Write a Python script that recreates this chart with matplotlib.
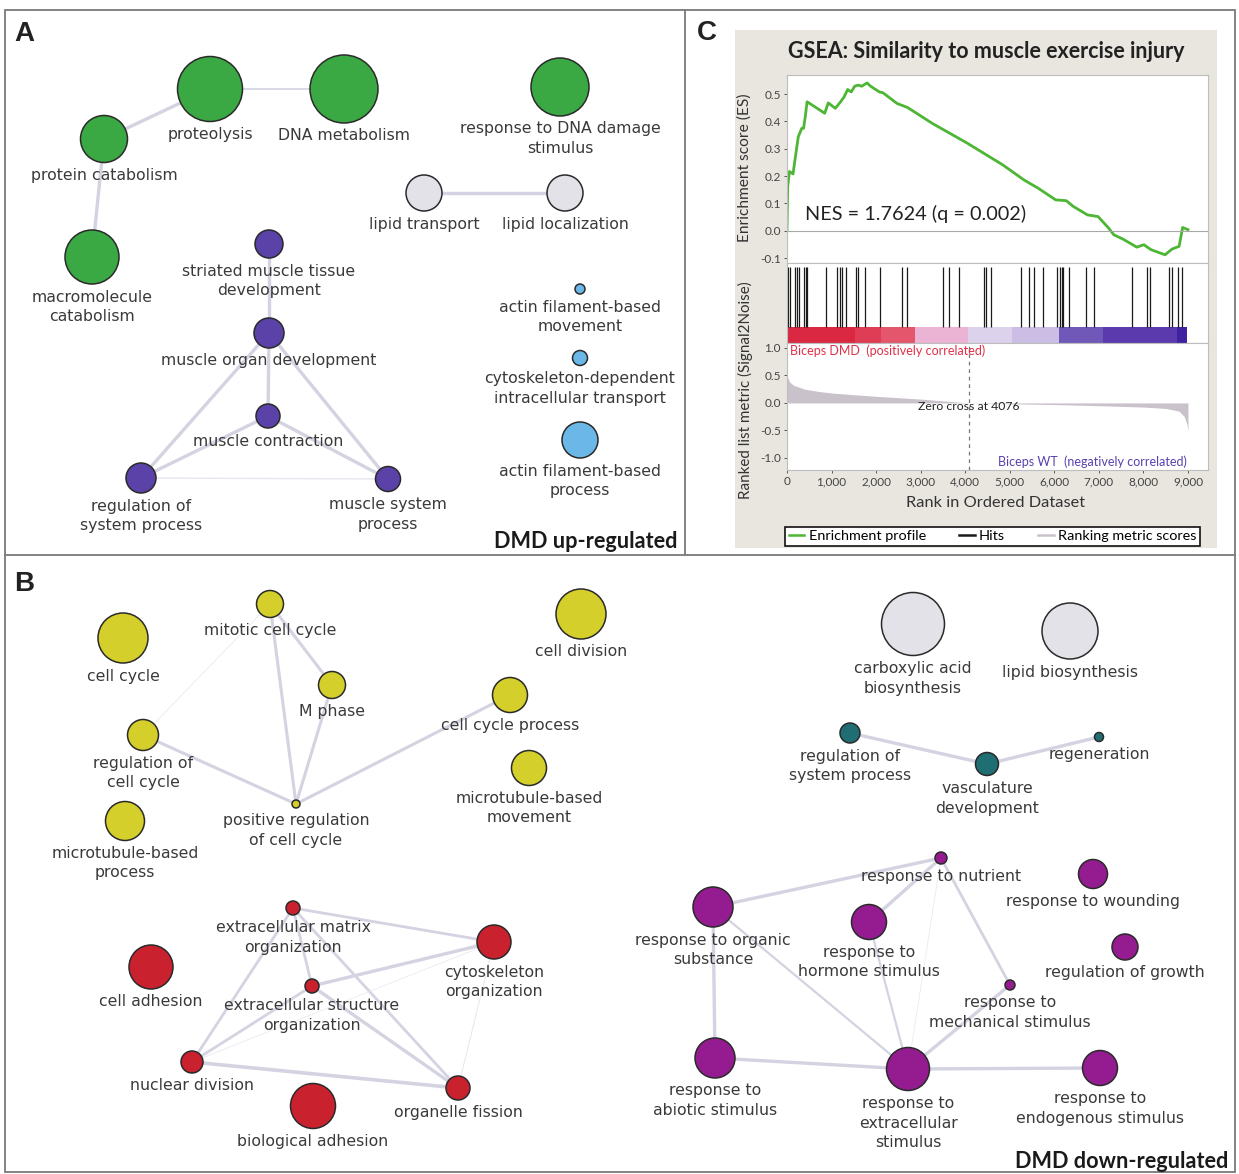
import matplotlib.pyplot as plt
from matplotlib.lines import Line2D
from matplotlib.patches import Rectangle

W, H = 1239, 1174

# ---------- GO-term networks (canvas pixel layout) ----------
a_terms = ['proteolysis', 'DNA metabolism', 'response to DNA damage\nstimulus',
           'protein catabolism', 'macromolecule\ncatabolism',
           'lipid transport', 'lipid localization',
           'striated muscle tissue\ndevelopment', 'muscle organ development',
           'muscle contraction', 'regulation of\nsystem process', 'muscle system\nprocess',
           'actin filament-based\nmovement', 'cytoskeleton-dependent\nintracellular transport',
           'actin filament-based\nprocess']
a_x = [210, 344, 560, 104, 92, 424, 565, 269, 269, 268, 141, 388, 580, 580, 580]
a_y = [89, 89, 87, 139, 257, 193, 193, 244, 333, 416, 478, 479, 289, 358, 440]
a_size = [65, 68, 58, 47, 54, 36, 36, 28, 30, 24, 30, 25, 10, 15, 36]
a_group = ['green', 'green', 'green', 'green', 'green', 'grey', 'grey',
           'purple', 'purple', 'purple', 'purple', 'purple', 'blue', 'blue', 'blue']
a_edges = [(3, 0, 2.4), (0, 1, 1.2), (3, 4, 2.4), (5, 6, 2.4), (7, 8, 2.4), (8, 9, 2.4),
           (8, 10, 2.4), (8, 11, 2.4), (9, 10, 2.4), (9, 11, 2.4), (10, 11, 1.0)]

b_terms = ['cell cycle', 'mitotic cell cycle', 'M phase', 'regulation of\ncell cycle',
           'microtubule-based\nprocess', 'positive regulation\nof cell cycle',
           'cell division', 'cell cycle process', 'microtubule-based\nmovement',
           'extracellular matrix\norganization', 'extracellular structure\norganization',
           'cytoskeleton\norganization', 'cell adhesion', 'nuclear division',
           'organelle fission', 'biological adhesion',
           'carboxylic acid\nbiosynthesis', 'lipid biosynthesis',
           'regulation of\nsystem process', 'vasculature\ndevelopment', 'regeneration',
           'response to nutrient', 'response to organic\nsubstance',
           'response to\nhormone stimulus', 'response to wounding', 'regulation of growth',
           'response to\nmechanical stimulus', 'response to\nabiotic stimulus',
           'response to\nextracellular\nstimulus', 'response to\nendogenous stimulus']
b_x = [123, 270, 332, 143, 125, 296, 581, 510, 529, 293, 312, 494, 151, 192, 458, 313,
       913, 1070, 850, 987, 1099, 941, 713, 869, 1093, 1125, 1010, 715, 908, 1100]
b_y = [638, 604, 685, 735, 821, 804, 614, 695, 768, 908, 986, 942, 967, 1062, 1088, 1106,
       624, 631, 733, 764, 737, 858, 907, 922, 874, 947, 985, 1058, 1069, 1068]
b_size = [50, 27, 27, 31, 39, 8, 50, 35, 35, 14, 14, 34, 44, 22, 24, 45,
          63, 56, 20, 23, 9, 12, 40, 35, 29, 26, 10, 40, 43, 35]
b_group = ['yellow'] * 9 + ['red'] * 7 + ['grey'] * 2 + ['teal'] * 3 + ['magenta'] * 9
b_edges = [(1, 2, 2.2), (1, 5, 2.2), (2, 5, 2.2), (3, 5, 2.2), (7, 5, 2.2), (3, 1, 0.5),
           (9, 10, 2.0), (9, 11, 2.0), (9, 13, 2.0), (9, 14, 2.0), (10, 11, 2.4),
           (10, 13, 2.0), (10, 14, 2.4), (13, 14, 2.6), (11, 14, 0.7), (13, 11, 0.5),
           (18, 19, 2.4), (19, 20, 2.4),
           (22, 21, 2.4), (22, 27, 2.4), (22, 28, 1.6), (23, 21, 2.4), (23, 28, 1.6),
           (21, 26, 2.0), (21, 28, 0.5), (26, 28, 2.4), (27, 28, 2.4), (28, 29, 2.4)]

node_colors = {'green': '#3aa843', 'grey': '#e3e2e8', 'purple': '#5a42a8',
               'blue': '#6bb8e8', 'yellow': '#d4cf2a', 'red': '#c9212e',
               'teal': '#1e6e74', 'magenta': '#951c90'}

# ---------- GSEA enrichment ----------
es_rank = [0, 16, 55, 135, 253, 332, 372, 412, 451, 847, 926, 1084, 1203, 1282, 1361,
           1441, 1520, 1599, 1678, 1797, 1876, 2074, 2153, 2469, 2707, 3261, 4052, 4844,
           5319, 5635, 6031, 6269, 6427, 6744, 6981, 7218, 7337, 7535, 7852, 8010, 8168,
           8485, 8643, 8801, 8881, 9000]
es_val = [0.0, 0.162, 0.217, 0.208, 0.344, 0.375, 0.375, 0.42, 0.472, 0.43, 0.468, 0.448,
          0.472, 0.49, 0.517, 0.508, 0.529, 0.533, 0.529, 0.541, 0.529, 0.508, 0.505,
          0.466, 0.451, 0.393, 0.32, 0.241, 0.186, 0.156, 0.113, 0.11, 0.089, 0.058,
          0.052, 0.01, -0.015, -0.03, -0.06, -0.051, -0.069, -0.088, -0.067, -0.057,
          0.012, 0.004]
hit_rank = [16, 63, 174, 222, 269, 380, 420, 459, 886, 1124, 1179, 1243, 1322, 1543,
            1591, 1757, 2097, 2588, 2691, 3498, 3641, 3855, 4425, 4464, 4575, 5256, 5438,
            5540, 5738, 6071, 6126, 6174, 6205, 6332, 6704, 6902, 7733, 8089, 8152, 8564,
            8643, 8786, 8865]
metric_rank = [0, 20, 60, 150, 400, 700, 1000, 1500, 2000, 3000, 4076, 5000, 6000, 7000,
               8000, 8500, 8800, 8920, 8980, 9000]
metric_val = [0.55, 0.45, 0.38, 0.32, 0.25, 0.21, 0.18, 0.15, 0.12, 0.07, 0.0, -0.015,
              -0.03, -0.05, -0.075, -0.1, -0.15, -0.25, -0.4, -0.52]
zero_cross = 4076
cbar_start = [0, 1520, 2110, 2865, 4052, 5042, 6110, 7100, 8760]
cbar_end = [1520, 2110, 2865, 4052, 5042, 6110, 7100, 8760, 8975]
cbar_color = ['#da2842', '#df3c55', '#e4566c', '#ecb4d4', '#dcd2ec', '#cbbde4',
              '#6f58b8', '#5a3aac', '#3f22a0']

TXT = '#3a3a3a'
EDGE = '#d3d3e1'

fig = plt.figure(figsize=(W / 100, H / 100), dpi=100)
base = fig.add_axes([0, 0, 1, 1])
base.set_xlim(0, W)
base.set_ylim(H, 0)
base.axis('off')


def draw_network(terms, xs, ys, sizes, groups, edges):
    for i, j, lw in edges:
        base.plot([xs[i], xs[j]], [ys[i], ys[j]], color=EDGE if lw > 1 else '#e6e6ee',
                  lw=lw, solid_capstyle='round', zorder=1)
    base.scatter(xs, ys, s=[(0.72 * d) ** 2 for d in sizes],
                 c=[node_colors[g] for g in groups], edgecolors='#2a2a2a',
                 linewidths=1.1, zorder=3)
    for t, x, y, d in zip(terms, xs, ys, sizes):
        for k, line in enumerate(t.split('\n')):
            base.text(x, y + d / 2 + 13 + 19.5 * k, line, ha='center', va='center',
                      fontsize=11.3, color=TXT, zorder=4)


# panel frames
base.add_patch(Rectangle((5, 10), 1230, 1162, fill=False, ec='#7a7a7a', lw=1.3))
base.plot([5, 1235], [555, 555], color='#7a7a7a', lw=1.3)
base.plot([685, 685], [10, 555], color='#7a7a7a', lw=1.3)
base.add_patch(Rectangle((735, 30), 482, 518, fc='#e9e6e0', ec='none', zorder=0))

draw_network(a_terms, a_x, a_y, a_size, a_group, a_edges)
draw_network(b_terms, b_x, b_y, b_size, b_group, b_edges)

for lbl, x, y in [('A', 14, 34), ('B', 14, 584), ('C', 697, 33)]:
    base.text(x, y, lbl, fontsize=20, fontweight='bold', family='Liberation Sans',
              ha='left', va='center', color='#222222')
base.text(677, 542, 'DMD up-regulated', fontsize=15.6, fontweight='bold', family='Lato',
          ha='right', va='center', color='#1a1a1a')
base.text(1228, 1161, 'DMD down-regulated', fontsize=15.6, fontweight='bold', family='Lato',
          ha='right', va='center', color='#1a1a1a')


def px_axes(x0, y0, x1, y1):
    return fig.add_axes([x0 / W, 1 - y1 / H, (x1 - x0) / W, (y1 - y0) / H])


XMAX = 9450
es_ax = px_axes(787, 75, 1208, 263)
hit_ax = px_axes(787, 263, 1208, 343)
rank_ax = px_axes(787, 343, 1208, 470)

for ax in (es_ax, hit_ax, rank_ax):
    ax.set_xlim(0, XMAX)
    for sp in ax.spines.values():
        sp.set_color('#bdbdbd')
        sp.set_linewidth(0.8)
    ax.tick_params(colors='#444444', labelsize=8.5, length=2.5, width=0.6, pad=2)

# enrichment profile
es_ax.plot(es_rank, es_val, color='#4db634', lw=2.0)
es_ax.axhline(0, color='#a8a8a8', lw=0.8)
es_ax.set_ylim(-0.118, 0.57)
es_ax.set_yticks([-0.1, 0.0, 0.1, 0.2, 0.3, 0.4, 0.5])
es_ax.set_yticklabels(['-0.1', '0.0', '0.1', '0.2', '0.3', '0.4', '0.5'], family='Lato')
es_ax.set_xticks([])
es_ax.text(404, 0.06, 'NES = 1.7624 (q = 0.002)', fontsize=14.3, family='Lato',
           va='center', color='#222222')

# hits and ranked-list colour bar
hit_ax.set_ylim(0, 1)
hit_ax.vlines(hit_rank, 0.2, 0.95, color='#1a1a1a', lw=0.9)
hit_ax.barh(0.1, [e - s for s, e in zip(cbar_start, cbar_end)], left=cbar_start,
            height=0.2, color=cbar_color, edgecolor='none')
hit_ax.set_xticks([])
hit_ax.set_yticks([])

# ranked list metric
rank_ax.fill_between(metric_rank, metric_val, 0, color='#c9c2cb', lw=0)
rank_ax.axvline(zero_cross, color='#777777', lw=0.9, ls=(0, (3, 3)))
rank_ax.set_ylim(-1.22, 1.09)
rank_ax.set_yticks([-1.0, -0.5, 0.0, 0.5, 1.0])
rank_ax.set_yticklabels(['-1.0', '-0.5', '0.0', '0.5', '1.0'], family='Lato')
rank_ax.set_xticks(range(0, 9001, 1000))
rank_ax.set_xticklabels(['0'] + ['{:,}'.format(v) for v in range(1000, 9001, 1000)],
                        family='Lato')
rank_ax.text(zero_cross, -0.07, 'Zero cross at {}'.format(zero_cross), ha='center',
             va='center', fontsize=8.8, family='Lato', color='#222222')
rank_ax.text(60, 0.95, 'Biceps DMD  (positively correlated)', fontsize=9, family='Lato',
             color='#e0304a', va='center')
rank_ax.text(8980, -1.07, 'Biceps WT  (negatively correlated)', fontsize=9,
             family='Lato', color='#5a40b0', va='center', ha='right')

fig.text(986 / W, 1 - 52 / H, 'GSEA: Similarity to muscle exercise injury', fontsize=15.5,
         fontweight='bold', family='Lato', ha='center', va='center', color='#222222')
fig.text(745 / W, 1 - 168 / H, 'Enrichment score (ES)', rotation=90, fontsize=11.2,
         family='Lato', ha='center', va='center', color='#333333')
fig.text(745 / W, 1 - 390 / H, 'Ranked list metric (Signal2Noise)', rotation=90,
         fontsize=10.9, family='Lato', ha='center', va='center', color='#333333')
fig.text(996 / W, 1 - 503 / H, 'Rank in Ordered Dataset', fontsize=11.8, family='Lato',
         ha='center', va='center', color='#333333')

handles = [Line2D([], [], color='#4db634', lw=1.8),
           Line2D([], [], color='#1a1a1a', lw=1.8),
           Line2D([], [], color='#c9c2cb', lw=1.8)]
leg = fig.legend(handles, ['Enrichment profile', 'Hits', 'Ranking metric scores'],
                 loc='lower left', bbox_to_anchor=(785 / W, 1 - 546 / H, 415 / W, 24 / H),
                 mode='expand', ncol=3, fancybox=False, edgecolor='#111111',
                 framealpha=1, borderaxespad=0, borderpad=0.25, handlelength=1.1,
                 handletextpad=0.3, prop={'family': 'Lato', 'size': 10.4})
leg.get_frame().set_linewidth(1.2)

fig.savefig('out.png', dpi=100)
